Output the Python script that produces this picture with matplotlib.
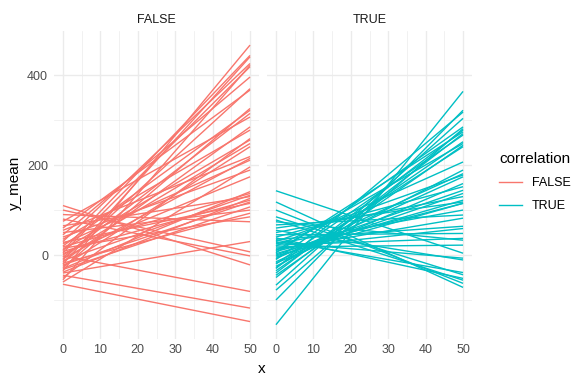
import numpy as np
import matplotlib
matplotlib.use("Agg")
import matplotlib.pyplot as plt
from matplotlib.lines import Line2D

plt.rcParams['font.family'] = ['Liberation Sans', 'DejaVu Sans']

# line endpoints: value at x=0 and at x=50
x_pts = [0, 50]

false_start = [-35, 10, -20, 30, -55, 5, 45, -10, 60, -28, 20, -5, 75, -15, 35,
               -50, 12, 0, -25, 55, -8, 25, -60, 40, 3, -30, 18, -12, 65, -38,
               8, -22, 28, -32, 50, -18, 15, 90, -40, 100, 80, 110, -2, -45, -65]
false_end = [467, 444, 441, 426, 422, 419, 396, 370, 367, 326, 322, 315, 307, 285, 278,
             259, 256, 248, 241, 219, 215, 211, 196, 189, 174, 141, 137, 133, 130, 126,
             122, 118, 115, 107, 100, 93, 85, 74, 30, 7, -2, -22, -81, -118, -148]

true_start = [-155, -100, -30, -67, -10, -78, -40, 5, -50, -20, -35, 10, -45, -28, 20,
              -25, -8, 30, -15, -18, 40, 0, -5, 50, 3, 60, 8, -2, 25, 67,
              12, 35, 15, 45, 22, 74, 18, 118, 28, 55, 33, 85, 38, 78, 100, 143]
true_end = [364, 322, 318, 304, 285, 281, 278, 274, 270, 267, 252, 248, 244, 241, 207,
            189, 181, 178, 174, 159, 152, 144, 137, 130, 122, 118, 115, 115, 100, 89,
            82, 64, 59, 48, 37, 33, 22, -72, -7, -11, -39, -44, -52, -56, -63, 4]

panels = ["FALSE", "TRUE"]
colors = {"FALSE": "#F8766D", "TRUE": "#00BFC4"}
data = {"FALSE": (false_start, false_end), "TRUE": (true_start, true_end)}

fig = plt.figure(figsize=(5.76, 3.84), dpi=100)
grid_c = "#EBEBEB"
tick_c = "#4D4D4D"

allv = false_start + false_end + true_start + true_end
ymin, ymax = min(allv), max(allv)
pad = (ymax - ymin) * 0.05

lefts = [53.6 / 576, 266.6 / 576]
for i, p in enumerate(panels):
    ax = fig.add_axes([lefts[i], 0.118, 205.8 / 576, 0.801])
    s, e = data[p]
    for a, b in zip(s, e):
        ax.plot(x_pts, [a, b], color=colors[p], lw=1.0, solid_capstyle="butt")
    ax.set_xlim(-2.5, 52.5)
    ax.set_ylim(ymin - pad, ymax + pad)
    ax.set_xticks([0, 10, 20, 30, 40, 50])
    ax.set_xticks([5, 15, 25, 35, 45], minor=True)
    ax.set_yticks([0, 200, 400])
    ax.set_yticks([-100, 100, 300], minor=True)
    ax.grid(which="major", color=grid_c, lw=1.0)
    ax.grid(which="minor", color=grid_c, lw=0.5)
    ax.set_axisbelow(True)
    for sp in ax.spines.values():
        sp.set_visible(False)
    ax.tick_params(which="both", length=0, colors=tick_c, labelsize=9, pad=4)
    if i == 1:
        ax.tick_params(axis="y", labelleft=False)
    ax.set_title(p, fontsize=9, color="#1A1A1A", pad=6)

fig.text(262 / 576, 1 - 369 / 384, "x", ha="center", va="center", fontsize=11)
fig.text(15 / 576, 1 - 183 / 384, "y_mean", ha="center", va="center",
         rotation=90, fontsize=11)

handles = [Line2D([], [], color=colors[p], lw=1.0) for p in panels]
leg = fig.legend(handles, panels, title="correlation", loc="center left",
                 bbox_to_anchor=(488 / 576, 1 - 182 / 384), frameon=False,
                 fontsize=9, title_fontsize=11, handlelength=1.8,
                 labelspacing=0.9, alignment="left")

fig.savefig("out.png", dpi=100)
